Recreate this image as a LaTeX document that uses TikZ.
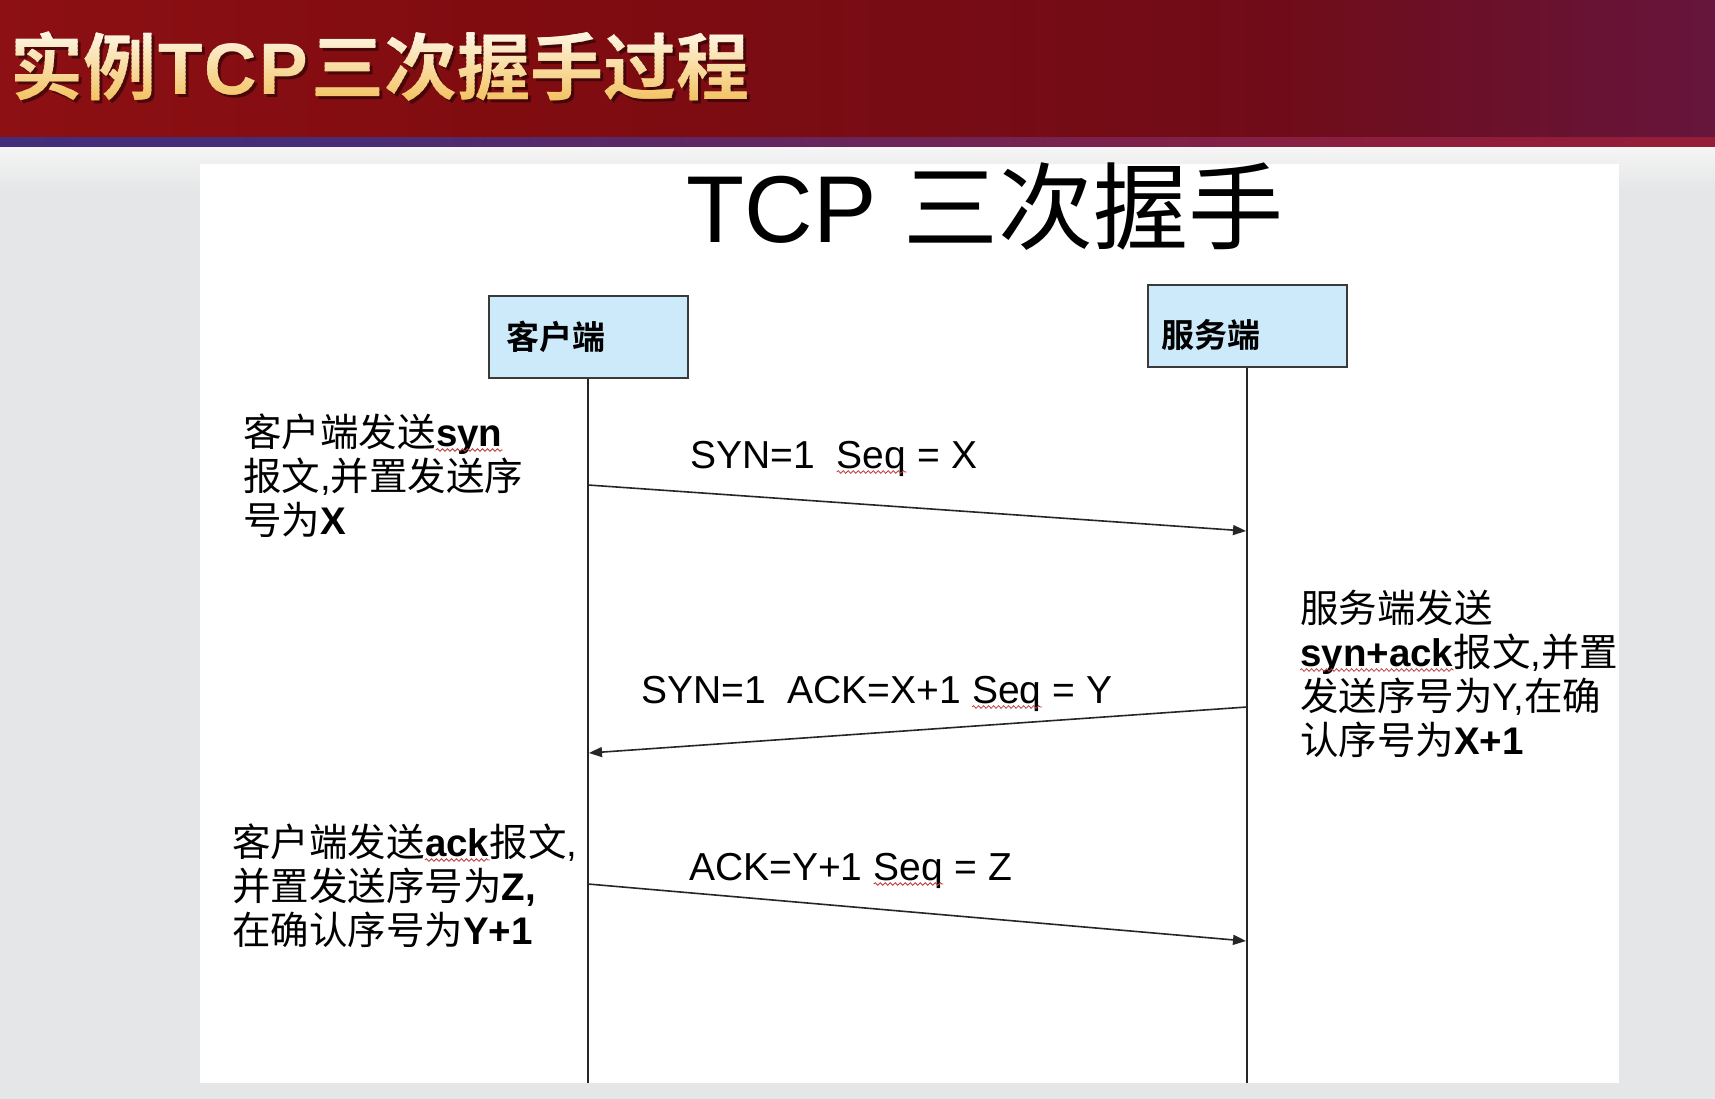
\documentclass[tikz,border=0pt]{standalone}
\usepackage{fontspec}
\setmainfont{Liberation Sans}
\newfontfamily\cjk{Noto Sans CJK SC}[BoldFont={Noto Sans CJK SC Bold}]
\usetikzlibrary{arrows.meta,decorations.pathmorphing}

% palette
\definecolor{hdrA}{RGB}{160,22,26}
\definecolor{hdrB}{RGB}{128,12,16}
\definecolor{hdrC}{RGB}{112,12,24}
\definecolor{hdrD}{RGB}{96,26,80}
\definecolor{hdrE}{RGB}{84,40,112}
\definecolor{stripeA}{RGB}{52,50,135}
\definecolor{stripeB}{RGB}{72,44,118}
\definecolor{stripeC}{RGB}{140,30,62}
\definecolor{stripeD}{RGB}{176,26,36}
\definecolor{titlecream}{RGB}{255,250,238}
\definecolor{titlegold}{RGB}{242,190,86}
\definecolor{bggray}{RGB}{229,230,231}
\definecolor{bglight}{RGB}{245,245,245}
\definecolor{boxblue}{RGB}{204,234,250}
\definecolor{boxline}{RGB}{58,58,58}
\definecolor{wavered}{RGB}{190,60,60}

\pgfdeclarehorizontalshading{hdrshade}{100bp}{color(0bp)=(hdrA); color(40bp)=(hdrB); color(62bp)=(hdrC); color(82bp)=(hdrD); color(100bp)=(hdrE)}
\pgfdeclarehorizontalshading{stripeshade}{100bp}{color(0bp)=(stripeA); color(35bp)=(stripeB); color(65bp)=(stripeC); color(100bp)=(stripeD)}

\newcommand\hdrtext{{\cjk\bfseries 实例}\kern2pt{\bfseries T\kern2pt C\kern2pt P}\kern3pt{\cjk\bfseries 三次握手过程}}

\begin{document}
\begin{tikzpicture}[x=1pt,y=-1pt,
  hdrtitle/.style={anchor=base west,inner sep=0pt,font=\fontsize{73}{73}\selectfont},
  bigtitle/.style={anchor=base,inner sep=0pt,font=\fontsize{95}{95}\selectfont},
  party/.style={draw=boxline,line width=2pt,fill=boxblue,minimum width=199pt,minimum height=82pt,inner sep=0pt},
  partylabel/.style={anchor=base west,inner sep=0pt,font=\cjk\bfseries\fontsize{33}{33}\selectfont},
  life/.style={draw=black!85,line width=2.5pt},
  msg/.style={draw=black!85,line width=1.6pt,-{Triangle[length=13pt,width=10pt]}},
  msglabel/.style={anchor=base west,inner sep=0pt,font=\fontsize{39}{39}\selectfont},
  note/.style={anchor=base west,inner sep=0pt,font=\fontsize{38.5}{38.5}\selectfont},
  spell/.style={draw=wavered,line width=0.8pt,decorate,
    decoration={snake,segment length=5pt,amplitude=1.3pt}}]
\useasboundingbox (0,0) rectangle (1715,1099);

% page background and header band
\fill[bggray] (0,147) rectangle (1715,1099);
\fill[top color=bglight,bottom color=bggray] (0,147) rectangle (1715,190);
\fill[shading=hdrshade] (0,0) rectangle (1715,139);
\fill[shading=stripeshade] (0,138) rectangle (1715,147);

% header title: drop shadow, then cream-to-gold bands
\node[hdrtitle,text=black,opacity=0.45] (hdrshadow) at (13,98) {\hdrtext};
\foreach \i in {0,...,19}{
  \pgfmathtruncatemacro\mix{\i*5}
  \begin{scope}
    \clip (0,{26+\i*4}) rectangle (800,{31+\i*4});
    \node[hdrtitle,text=titlegold!\mix!titlecream] (hdr\i) at (10,95) {\hdrtext};
  \end{scope}
}

% slide panel
\fill[white] (200,164) rectangle (1619,1083);

% slide title
\node[bigtitle] (title) at (985,243) {TCP {\cjk 三次握手}};

% participants
\node[party] (client) at (588,337) {};
\node[partylabel] (clientlbl) at (506,349) {客户端};
\node[party] (server) at (1247,326) {};
\node[partylabel] (serverlbl) at (1161,347) {服务端};

% lifelines
\coordinate (cbot) at (588,1083);
\coordinate (sbot) at (1247,1083);
\draw[life] (client.south) -- (cbot);
\draw[life] (server.south) -- (sbot);

% messages
\coordinate (m1s) at (588,485);
\coordinate (m1e) at (1246,531);
\coordinate (m2s) at (1247,707);
\coordinate (m2e) at (589,753);
\coordinate (m3s) at (588,884);
\coordinate (m3e) at (1246,941);
\draw[msg] (m1s) -- (m1e);
\draw[msg] (m2s) -- (m2e);
\draw[msg] (m3s) -- (m3e);

% message labels, split round the underlined word
\node[msglabel] (lab1a) at (690,468) {SYN=1\hbox{\ \ }};
\node[msglabel] (lab1w) at (lab1a.base east) {Seq};
\node[msglabel] (lab1b) at (lab1w.base east) {\hbox{ }= X};
\node[msglabel] (lab2a) at (641,703) {SYN=1\hbox{\ \ }ACK=X+1\hbox{ }};
\node[msglabel] (lab2w) at (lab2a.base east) {Seq};
\node[msglabel] (lab2b) at (lab2w.base east) {\hbox{ }= Y};
\node[msglabel] (lab3a) at (689,880) {ACK=Y+1\hbox{ }};
\node[msglabel] (lab3w) at (lab3a.base east) {Seq};
\node[msglabel] (lab3b) at (lab3w.base east) {\hbox{ }= Z};

% client note, first step
\node[note] (n1a) at (243,446) {\cjk 客户端发送};
\node[note] (n1w) at (n1a.base east) {\textbf{syn}};
\node[note] (n1b) at (243,490) {{\cjk 报文},{\cjk 并置发送序}};
\node[note] (n1c) at (243,534) {{\cjk 号为}\textbf{X}};

% server note, second step
\node[note] (n2a) at (1300,622) {\cjk 服务端发送};
\node[note] (n2w) at (1300,666) {\textbf{syn+ack}};
\node[note] (n2b) at (n2w.base east) {{\cjk 报文},{\cjk 并置}};
\node[note] (n2c) at (1300,710) {{\cjk 发送序号为}Y,{\cjk 在确}};
\node[note] (n2d) at (1300,754) {{\cjk 认序号为}\textbf{X+1}};

% client note, third step
\node[note] (n3a) at (232,856) {\cjk 客户端发送};
\node[note] (n3w) at (n3a.base east) {\textbf{ack}};
\node[note] (n3b) at (n3w.base east) {{\cjk 报文},};
\node[note] (n3c) at (232,900) {{\cjk 并置发送序号为}\textbf{Z,}};
\node[note] (n3d) at (232,944) {{\cjk 在确认序号为}\textbf{Y+1}};

% spelling marks under the English words
\foreach \w in {lab1w,lab2w,lab3w,n1w,n2w,n3w}{
  \draw[spell] ([yshift=-4pt]\w.base west) -- ([yshift=-4pt]\w.base east);
}
\end{tikzpicture}
\end{document}
